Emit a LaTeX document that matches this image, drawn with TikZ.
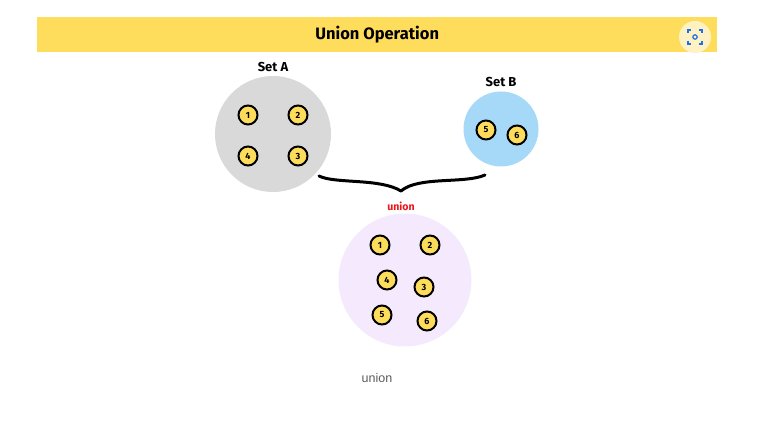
\documentclass[tikz,border=0pt]{standalone}
\usepackage{fontspec}
\setmainfont{Fira Sans}
\newfontfamily\capfont{Liberation Sans}
\definecolor{banner}{HTML}{FFDD5C}
\definecolor{setagray}{HTML}{D9D9D9}
\definecolor{setbblue}{HTML}{A6D8F7}
\definecolor{unionlav}{HTML}{F5EAFD}
\definecolor{elemfill}{HTML}{FCDC5A}
\definecolor{iconbg}{HTML}{FFF1C2}
\definecolor{iconblue}{HTML}{1A73E8}
\definecolor{capgray}{HTML}{5E5A5A}
\definecolor{unionred}{HTML}{E8151B}
\tikzset{
  elem/.style={circle, draw=black, line width=2pt, fill=elemfill, minimum size=19pt, inner sep=0pt, font=\fontsize{9}{9}\selectfont\bfseries},
  setlabel/.style={font=\fontsize{13}{13}\selectfont\bfseries},
}
\begin{document}
\begin{tikzpicture}[x=1pt,y=-1pt]
\useasboundingbox (0,0) rectangle (776,427);
\fill[white] (0,0) rectangle (776,427);
% banner
\node[fill=banner, minimum width=680pt, minimum height=35pt, inner sep=0pt, anchor=north west, font=\fontsize{16.5}{16.5}\selectfont\bfseries] (title) at (37,17) {Union Operation};
% icon
\node[circle, fill=iconbg, minimum size=32pt, inner sep=0pt] (icon) at (695,37) {};
\begin{scope}[iconblue, line width=1.2pt]
\draw (688,33) -- (688,30) -- (691,30);
\draw (699,30) -- (702,30) -- (702,33);
\draw (688,41) -- (688,44) -- (691,44);
\draw (699,44) -- (702,44) -- (702,41);
\draw (695,37) circle (2.2pt);
\end{scope}
% Set A
\node[circle, fill=setagray, minimum size=116pt, inner sep=0pt] (setA) at (273,134) {};
\node[setlabel] (labA) at (273,67) {Set A};
\node[elem] (a1) at (248,115) {1};
\node[elem] (a2) at (298,115) {2};
\node[elem] (a4) at (248,156) {4};
\node[elem] (a3) at (298,156) {3};
% Set B
\node[circle, fill=setbblue, minimum size=75pt, inner sep=0pt] (setB) at (501,129) {};
\node[setlabel] (labB) at (501,82) {Set B};
\node[elem] (b5) at (486,130) {5};
\node[elem] (b6) at (517,135) {6};
% brace
\coordinate (bl) at (319,176);
\coordinate (bt) at (401,191);
\coordinate (br) at (485,175);
\draw[line width=3pt, line cap=round, line join=round]
  (bl) .. controls (335,184) and (380,178) .. (bt)
  .. controls (418,176) and (465,184) .. (br);
\node[font=\fontsize{10.5}{10.5}\selectfont\bfseries, text=unionred] (ulab) at (401,206) {union};
% Union set
\node[circle, fill=unionlav, minimum size=133pt, inner sep=0pt] (setU) at (405,280) {};
\node[elem] (u1) at (380,245) {1};
\node[elem] (u2) at (430,245) {2};
\node[elem] (u4) at (387,280) {4};
\node[elem] (u3) at (424,287) {3};
\node[elem] (u5) at (382,315) {5};
\node[elem] (u6) at (427,321) {6};
% caption
\node[font=\capfont\fontsize{12.5}{12.5}\selectfont, text=capgray] (cap) at (377,378) {union};
\end{tikzpicture}
\end{document}
